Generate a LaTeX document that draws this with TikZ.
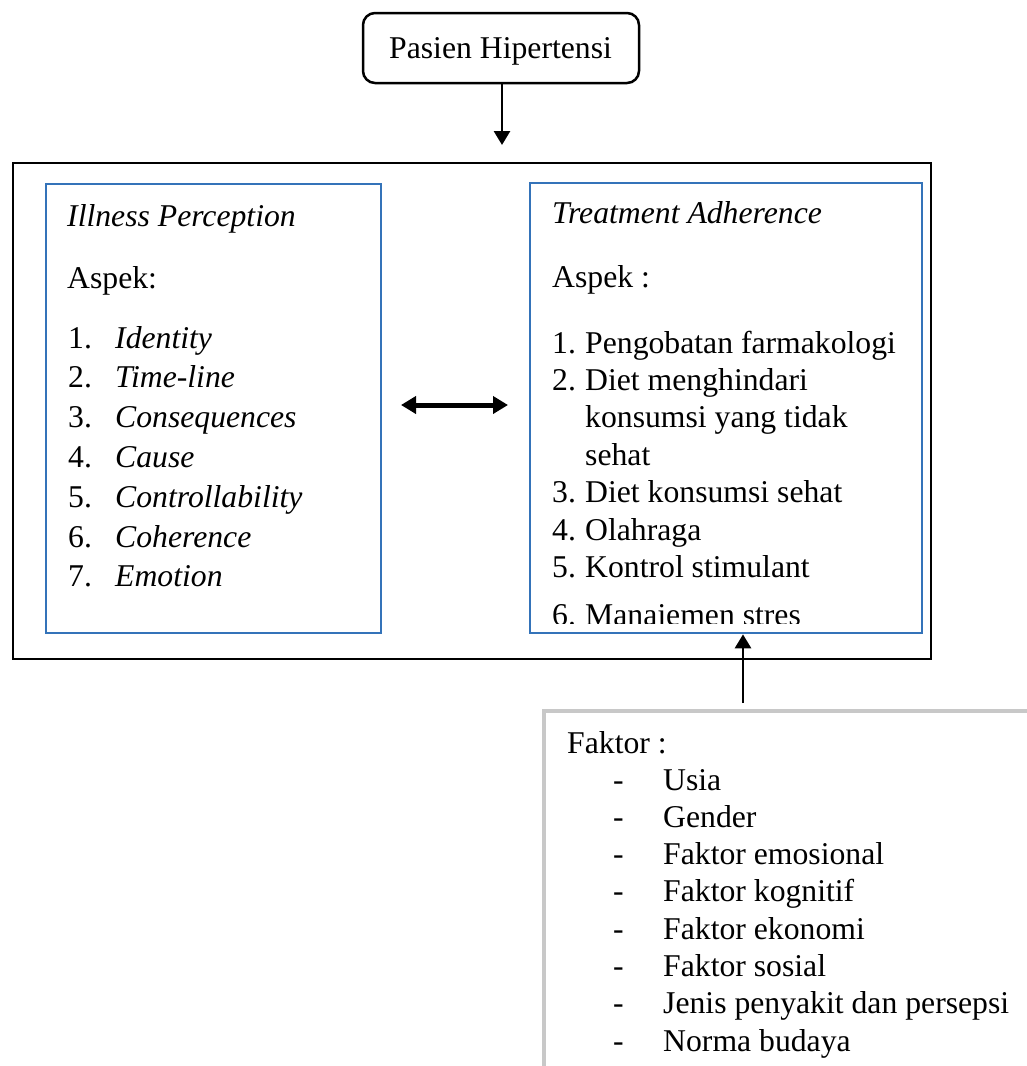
\documentclass[tikz,border=0pt]{standalone}
\usepackage{fontspec}
\setmainfont{Liberation Serif}
\usetikzlibrary{arrows.meta}
\definecolor{boxblue}{RGB}{52,115,185}
\definecolor{boxgray}{RGB}{200,200,200}
\begin{document}
\begin{tikzpicture}[x=1pt,y=-1pt,
  txt/.style={anchor=base west, inner sep=0pt, font=\fontsize{31.7}{38}\selectfont},
  itx/.style={txt, font=\fontsize{31.7}{38}\selectfont\itshape},
  bluebox/.style={draw=boxblue, line width=2.7pt, rectangle, inner sep=0pt},
  outerbox/.style={draw=black, line width=2.8pt, rectangle, inner sep=0pt},
  topbox/.style={draw=black, line width=2.5pt, rectangle, rounded corners=12pt, inner sep=0pt,
    minimum width=276pt, minimum height=70pt, font=\fontsize{31.7}{38}\selectfont},
  arr/.style={line width=2.8pt, -{Triangle[length=14pt,width=16pt]}},
  dblarr/.style={line width=5pt, {Triangle[length=15pt,width=17pt]}-{Triangle[length=15pt,width=17pt]}},
  grayline/.style={draw=boxgray, line width=3.5pt}
]
\useasboundingbox (0,0) rectangle (1027,1066);
\clip (0,0) rectangle (1027,1066);
\fill[white] (0,0) rectangle (1027,1066);

% top box
\node[topbox] (pasien) at (501,48) {};
\node[txt] (pasientxt) at (389,58) {Pasien Hipertensi};

% outer box
\node[outerbox, minimum width=918pt, minimum height=496pt] (outer) at (472,411) {};

% blue boxes
\node[bluebox, minimum width=335pt, minimum height=449pt] (ip) at (213.5,408.5) {};
\node[bluebox, minimum width=392pt, minimum height=450pt] (ta) at (726,408) {};

% left texts
\node[itx] (iptitle) at (67,226) {Illness Perception};
\node[txt] (ipaspek) at (67,288) {Aspek:};
\foreach \t [count=\i] in {Identity,Time-line,Consequences,Cause,Controllability,Coherence,Emotion}{
  \node[txt] (ipn\i) at (68,{348+39.8*(\i-1)}) {\i.};
  \node[itx] (ipt\i) at (115,{348+39.8*(\i-1)}) {\t};
}

% right texts
\node[itx] (tatitle) at (552,223) {Treatment Adherence};
\node[txt] (taaspek) at (552,287) {Aspek :};
\node[txt] (tan1) at (552,353) {1.};
\node[txt] (tat1) at (585,353) {Pengobatan farmakologi};
\node[txt] (tan2) at (552,390.4) {2.};
\node[txt] (tat2a) at (585,390.4) {Diet menghindari};
\node[txt] (tat2b) at (585,427.8) {konsumsi yang tidak};
\node[txt] (tat2c) at (585,465.2) {sehat};
\node[txt] (tan3) at (552,502.6) {3.};
\node[txt] (tat3) at (585,502.6) {Diet konsumsi sehat};
\node[txt] (tan4) at (552,540) {4.};
\node[txt] (tat4) at (585,540) {Olahraga};
\node[txt] (tan5) at (552,577.4) {5.};
\node[txt] (tat5) at (585,577.4) {Kontrol stimulant};
\begin{scope}
  \clip (530,183) rectangle (922,623.5);
  \node[txt] (tan6) at (552,625) {6.};
  \node[txt] (tat6) at (585,625) {Manajemen stres};
\end{scope}

% faktor box
\draw[grayline] (1040,711) -- (544,711) -- (544,1080);
\node[txt] (fktitle) at (567,753) {Faktor :};
\foreach \t [count=\i] in {Usia,Gender,Faktor emosional,Faktor kognitif,Faktor ekonomi,Faktor sosial,Jenis penyakit dan persepsi,Norma budaya}{
  \node[txt] (fkd\i) at (613,{790+37.3*(\i-1)}) {-};
  \node[txt] (fkt\i) at (663,{790+37.3*(\i-1)}) {\t};
}

% connectors
\coordinate (downtip) at (502,145);
\draw[arr] (pasien.south -| downtip) -- (downtip);
\coordinate (dl) at (401,405);
\coordinate (dr) at (508,405);
\draw[dblarr] (dl) -- (dr);
\coordinate (fktop) at (743,703);
\draw[arr] (fktop) -- (ta.south -| fktop);
\end{tikzpicture}
\end{document}
